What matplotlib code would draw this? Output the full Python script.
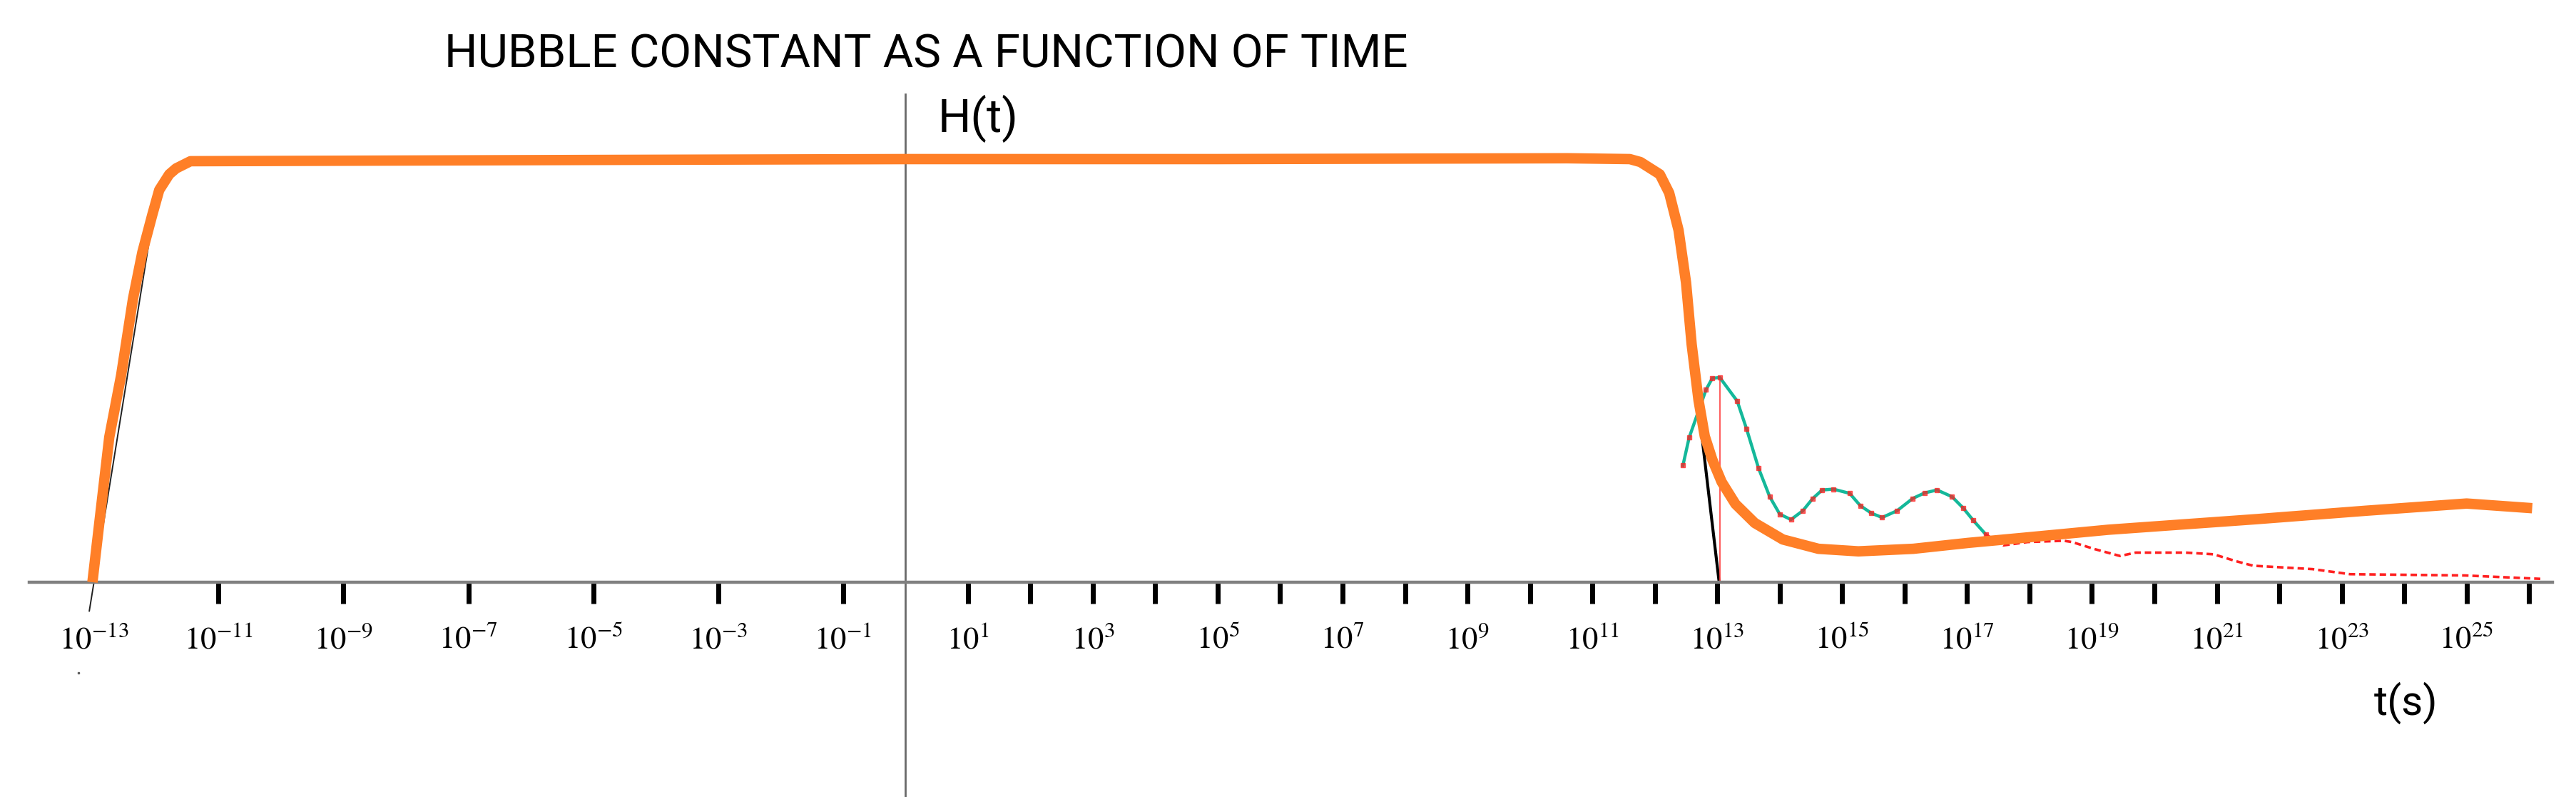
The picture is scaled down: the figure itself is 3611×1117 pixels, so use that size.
import numpy as np
import matplotlib.pyplot as plt

plt.rcParams['mathtext.fontset'] = 'stix'

# x values are log10(t / s), H is in units of the early plateau value
orange_exp = [-13.02, -12.75, -12.56, -12.37, -12.22, -12.06, -11.95, -11.79, -11.68, -11.45,
              -5.0, 0.0, 5.0, 10.6, 11.6, 11.77, 12.08, 12.23, 12.38, 12.5, 12.59, 12.7,
              12.8, 12.92, 13.07, 13.29, 13.6, 14.05, 14.62, 15.26, 16.14, 17.02, 17.9,
              19.26, 21.63, 23.39, 25.0, 26.05]
orange_h = [0.0, 0.343, 0.489, 0.67, 0.78, 0.869, 0.927, 0.964, 0.978, 0.995,
            0.998, 1.0, 1.0, 1.002, 1.0, 0.993, 0.964, 0.92, 0.832, 0.708, 0.562, 0.43,
            0.345, 0.29, 0.237, 0.185, 0.14, 0.101, 0.079, 0.073, 0.079, 0.093, 0.105,
            0.124, 0.149, 0.169, 0.186, 0.175]

green_exp = [12.45, 12.55, 12.82, 12.92, 13.04, 13.32, 13.47, 13.66, 13.84, 14.0, 14.18,
             14.37, 14.53, 14.68, 14.86, 15.12, 15.29, 15.47, 15.64, 15.88, 16.13, 16.32,
             16.52, 16.76, 16.94, 17.1, 17.3]
green_h = [0.276, 0.342, 0.455, 0.482, 0.484, 0.428, 0.362, 0.27, 0.202, 0.161, 0.148,
           0.169, 0.198, 0.218, 0.22, 0.21, 0.181, 0.163, 0.153, 0.169, 0.198, 0.211,
           0.218, 0.202, 0.175, 0.146, 0.113]

tail_exp = [17.3, 17.58, 17.97, 18.55, 18.68, 19.05, 19.45, 19.7, 20.5, 20.95, 21.3,
            21.58, 22.53, 23.13, 24.97, 26.18]
tail_h = [0.113, 0.087, 0.095, 0.098, 0.095, 0.078, 0.062, 0.07, 0.07, 0.066, 0.05,
          0.039, 0.031, 0.019, 0.016, 0.008]

# straight construction lines
drop_line_exp = [12.47, 13.03]
drop_line_h = [0.70, 0.0]
rise_line_exp = [-13.07, -11.97]
rise_line_h = [-0.068, 0.934]
marker_exp = 13.04
stray_dot = (-13.24, -0.215)

tick_exp = [-11, -9, -7, -5, -3, -1] + list(range(1, 27))
label_exp = list(range(-13, 26, 2))

fig = plt.figure(figsize=(36.12, 11.17), dpi=100)
ax = fig.add_axes([0, 0, 1, 1])
ax.set_xscale('log')
ax.set_xlim(10 ** -14.5, 10 ** 26.763)
ax.set_ylim(-0.5076, 1.376)

t = lambda e: 10 ** np.asarray(e, dtype=float)

ax.plot(t(rise_line_exp), rise_line_h, color='#202020', lw=1.4, zorder=2)
ax.plot(t(drop_line_exp), drop_line_h, color='black', lw=3, zorder=2)
ax.plot(t(stray_dot[0]), stray_dot[1], marker='s', ms=2, color='#606060', zorder=2)
ax.plot([t(marker_exp)] * 2, [0, green_h[4]], color='#ff4040', lw=1.2, zorder=2)
ax.plot(t(green_exp), green_h, color='#14b89a', lw=3.2, zorder=3)
ax.plot(t(green_exp), green_h, ls='none', marker='s', ms=5, color='#ff2020',
        alpha=0.7, zorder=3)
ax.plot(t(tail_exp), tail_h, color='#ff2020', lw=2.6, ls=(0, (2.5, 1.5)), zorder=3)
ax.plot(t(orange_exp), orange_h, color='#ff7f27', lw=10.5, zorder=4,
        solid_joinstyle='round', solid_capstyle='butt')

for s in ['top', 'right']:
    ax.spines[s].set_visible(False)
ax.spines['bottom'].set_position(('data', 0))
ax.spines['bottom'].set_bounds(10 ** -14.03, 10 ** 26.37)
ax.spines['bottom'].set_color('#808080')
ax.spines['bottom'].set_linewidth(3.2)
ax.spines['left'].set_position(('data', 1))
ax.spines['left'].set_bounds(-0.5076, 1.153)
ax.spines['left'].set_color('#6a6a6a')
ax.spines['left'].set_linewidth(2)

ax.set_xticks(t(tick_exp))
ax.set_xticks([], minor=True)
ax.set_xticklabels([])
ax.tick_params(axis='x', direction='out', length=21.6, width=5, color='black')
ax.set_yticks([])

for e in label_exp:
    ax.text(10.0 ** e, -0.135, f'$10^{{{e}}}$', ha='center', va='center', fontsize=32)

fig.text(0.3594, 0.915, 'HUBBLE CONSTANT AS A FUNCTION OF TIME', ha='center',
         va='baseline', fontsize=47, family='Roboto')
fig.text(0.364, 0.8344, 'H(t)', ha='left', va='baseline', fontsize=47, family='Roboto')
fig.text(0.9336, 0.1182, 't(s)', ha='center', va='center', fontsize=42, family='Roboto')

fig.savefig('out.png', dpi=100)
